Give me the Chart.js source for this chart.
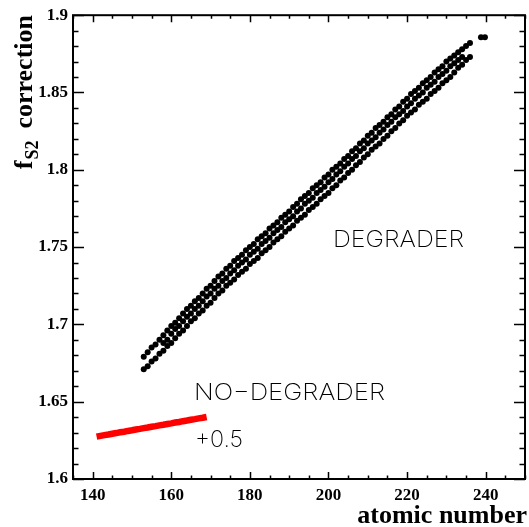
<!DOCTYPE html>
<html>
<head>
<meta charset="utf-8">
<script src="https://cdn.jsdelivr.net/npm/chart.js@4"></script>
<style>
  html, body { margin: 0; padding: 0; background: #fff; }
  canvas { display: block; }
</style>
</head>
<body>
<canvas id="fs2-canvas" width="529" height="527"></canvas>
<script>
// atomic numbers of the degrader points, one column per Z
const atomicNumbers = [153, 154, 155, 156, 157, 158, 159, 160, 161, 162, 163, 164, 165, 166, 167, 168, 169, 170,
    171, 172, 173, 174, 175, 176, 177, 178, 179, 180, 181, 182, 183, 184, 185, 186, 187, 188, 189, 190,
    191, 192, 193, 194, 195, 196, 197, 198, 199, 200, 201, 202, 203, 204, 205, 206, 207, 208, 209, 210,
    211, 212, 213, 214, 215, 216, 217, 218, 219, 220, 221, 222, 223, 224, 225, 226, 227, 228, 229, 230,
    231, 232, 233, 234, 235, 236];

const corrUpper = [1.679, 1.682, 1.685, 1.687, 1.690, 1.693, 1.696, 1.699, 1.701, 1.704, 1.707, 1.710, 1.712, 1.715, 1.717, 1.720, 1.723, 1.725,
    1.728, 1.731, 1.733, 1.736, 1.738, 1.741, 1.743, 1.745, 1.748, 1.750, 1.752, 1.755, 1.757, 1.759, 1.762, 1.764, 1.766, 1.769, 1.771, 1.773,
    1.776, 1.778, 1.781, 1.783, 1.785, 1.788, 1.790, 1.792, 1.795, 1.797, 1.800, 1.802, 1.804, 1.807, 1.809, 1.812, 1.814, 1.817, 1.819, 1.822,
    1.824, 1.827, 1.829, 1.831, 1.834, 1.836, 1.839, 1.841, 1.844, 1.846, 1.849, 1.851, 1.853, 1.856, 1.858, 1.860, 1.863, 1.865, 1.867, 1.870,
    1.872, 1.874, 1.876, 1.878, 1.880, 1.882];

const corrMiddle = [null, null, null, null, null, 1.688, 1.690, 1.694, 1.697, 1.699, 1.702, 1.705, 1.707, 1.710, 1.712, 1.715, 1.718, 1.720,
    1.723, 1.725, 1.728, 1.730, 1.733, 1.735, 1.738, 1.740, 1.742, 1.745, 1.747, 1.749, 1.752, 1.754, 1.756, 1.759, 1.761, 1.763, 1.766, 1.768,
    1.770, 1.773, 1.775, 1.778, 1.780, 1.782, 1.785, 1.787, 1.789, 1.792, 1.794, 1.797, 1.799, 1.802, 1.804, 1.807, 1.809, 1.812, 1.814, 1.817,
    1.819, 1.821, 1.824, 1.826, 1.829, 1.831, 1.834, 1.836, 1.838, 1.841, 1.843, 1.846, 1.848, 1.850, 1.853, 1.855, 1.857, 1.860, 1.862, 1.864,
    1.867, 1.869, 1.871, 1.873, null, null];

const corrLower = [1.671, 1.673, 1.676, 1.678, 1.681, 1.683, 1.686, 1.688, 1.691, 1.694, 1.696, 1.699, 1.702, 1.704, 1.707, 1.709, 1.712, 1.714,
    1.717, 1.720, 1.722, 1.725, 1.727, 1.729, 1.732, 1.734, 1.736, 1.739, 1.741, 1.743, 1.746, 1.748, 1.750, 1.753, 1.755, 1.757, 1.760, 1.762,
    1.764, 1.767, 1.769, 1.771, 1.774, 1.776, 1.778, 1.781, 1.783, 1.785, 1.788, 1.790, 1.793, 1.795, 1.798, 1.800, 1.803, 1.805, 1.808, 1.810,
    1.813, 1.815, 1.817, 1.820, 1.822, 1.825, 1.827, 1.830, 1.832, 1.835, 1.837, 1.839, 1.842, 1.844, 1.846, 1.849, 1.851, 1.853, 1.856, 1.858,
    1.860, 1.863, 1.866, 1.868, 1.871, 1.873];

// the two isolated points at the top end
const tailZ = [238.8, 239.8];
const tailCorr = [1.8858, 1.8858];

// no-degrader curve (shifted by +0.5)
const noDegraderZ = [141, 142, 143, 144, 145, 146, 147, 148, 149, 150, 151, 152, 153, 154, 155,
    156, 157, 158, 159, 160, 161, 162, 163, 164, 165, 166, 167, 168, 169];
const noDegraderCorr = [1.6274, 1.6279, 1.6284, 1.6288, 1.6293, 1.6297, 1.6302, 1.6306, 1.6311, 1.6315, 1.6320, 1.6324, 1.6329, 1.6333, 1.6338,
    1.6342, 1.6347, 1.6351, 1.6356, 1.6360, 1.6365, 1.6369, 1.6374, 1.6378, 1.6383, 1.6387, 1.6392, 1.6396, 1.6401];

const xTickLabels = [140, 160, 180, 200, 220, 240];
const yTickLabels = [1.6, 1.65, 1.7, 1.75, 1.8, 1.85, 1.9];

const toPoints = (xs, ys) => xs.map((x, i) => ({ x: x, y: ys[i] })).filter(p => p.y !== null);

const serif = "'Liberation Serif', 'Times New Roman', serif";
const thin = "Inter, 'Liberation Sans', sans-serif";

// ROOT style frame, inward ticks and the text labels
const frameAndLabels = {
    id: 'frameAndLabels',
    afterDraw(chart) {
        const ctx = chart.ctx;
        const area = chart.chartArea;
        const xs = chart.scales.x;
        const ys = chart.scales.y;
        ctx.save();
        ctx.strokeStyle = '#000';
        ctx.lineWidth = 1.5;
        ctx.beginPath();
        for (let v = 135; v <= 250; v += 5) {
            const px = Math.round(xs.getPixelForValue(v)) + 0.5;
            const len = v % 20 === 0 ? 7 : 3.5;
            ctx.moveTo(px, area.bottom);
            ctx.lineTo(px, area.bottom - len);
            ctx.moveTo(px, area.top);
            ctx.lineTo(px, area.top + len);
        }
        for (let i = 0; i <= 30; i++) {
            const v = 1.6 + i * 0.01;
            const py = Math.round(ys.getPixelForValue(v)) + 0.5;
            const len = i % 5 === 0 ? 11 : 5.5;
            ctx.moveTo(area.left, py);
            ctx.lineTo(area.left + len, py);
            ctx.moveTo(area.right, py);
            ctx.lineTo(area.right - len, py);
        }
        ctx.stroke();
        ctx.lineWidth = 2;
        ctx.strokeRect(area.left, area.top, area.right - area.left, area.bottom - area.top);

        // axis titles
        ctx.fillStyle = '#000';
        ctx.font = `bold 26px ${serif}`;
        ctx.textAlign = 'right';
        ctx.textBaseline = 'alphabetic';
        ctx.fillText('atomic number', 527, 523);

        ctx.textAlign = 'left';
        const wf = ctx.measureText('f').width;
        const wc = ctx.measureText('correction').width;
        ctx.font = `bold 18px ${serif}`;
        const ws = ctx.measureText('S2').width;
        const gap = 12;
        const total = wf + 1 + ws + gap + wc;
        ctx.translate(32, 15 + total);
        ctx.rotate(-Math.PI / 2);
        ctx.font = `bold 26px ${serif}`;
        ctx.fillText('f', 0, 0);
        ctx.font = `bold 18px ${serif}`;
        ctx.fillText('S2', wf + 1, 6);
        ctx.font = `bold 26px ${serif}`;
        ctx.fillText('correction', wf + 1 + ws + gap, 0);
        ctx.restore();

        // plot annotations, thin sans
        const note = (text, x, yMid, width) => {
            ctx.save();
            ctx.font = `200 23px ${thin}`;
            ctx.fillStyle = '#000';
            ctx.textAlign = 'left';
            ctx.textBaseline = 'middle';
            const w = ctx.measureText(text).width;
            ctx.translate(x, yMid);
            ctx.scale(width / w, 1);
            ctx.fillText(text, 0, 0);
            ctx.restore();
        };
        note('DEGRADER', 333, 240, 131);
        note('NO\u2212DEGRADER', 194, 393, 191);
        note('+0.5', 195, 440, 48);
    }
};

new Chart(document.getElementById('fs2-canvas'), {
    type: 'scatter',
    plugins: [frameAndLabels],
    data: {
        datasets: [
            {
                label: 'no degrader',
                data: toPoints(noDegraderZ, noDegraderCorr),
                showLine: true,
                borderColor: '#ff0000',
                borderWidth: 6.5,
                borderCapStyle: 'butt',
                pointRadius: 0,
            },
            {
                label: 'degrader upper',
                data: toPoints(atomicNumbers, corrUpper),
                backgroundColor: '#000',
                borderWidth: 0,
                pointRadius: 3,
            },
            {
                label: 'degrader middle',
                data: toPoints(atomicNumbers, corrMiddle),
                backgroundColor: '#000',
                borderWidth: 0,
                pointRadius: 3,
            },
            {
                label: 'degrader lower',
                data: toPoints(atomicNumbers, corrLower),
                backgroundColor: '#000',
                borderWidth: 0,
                pointRadius: 3,
            },
            {
                label: 'degrader tail',
                data: toPoints(tailZ, tailCorr),
                backgroundColor: '#000',
                borderWidth: 0,
                pointRadius: 3,
            },
        ]
    },
    options: {
        responsive: false,
        animation: false,
        devicePixelRatio: 1,
        layout: {
            padding: { top: 14, right: 1, left: 0, bottom: 0 }
        },
        plugins: {
            legend: { display: false },
            tooltip: { enabled: false },
        },
        scales: {
            x: {
                type: 'linear',
                min: 135,
                max: 250,
                grid: { display: false, drawTicks: false },
                border: { display: false },
                afterBuildTicks: (scale) => {
                    scale.ticks = xTickLabels.map(v => ({ value: v }));
                },
                afterFit: (scale) => { scale.height = 48; },
                ticks: {
                    padding: 6,
                    color: '#000',
                    font: { family: serif, weight: 'bold', size: 17 },
                    callback: (value) => `${value}`,
                }
            },
            y: {
                type: 'linear',
                min: 1.6,
                max: 1.9,
                grid: { display: false, drawTicks: false },
                border: { display: false },
                afterBuildTicks: (scale) => {
                    scale.ticks = yTickLabels.map(v => ({ value: v }));
                },
                afterFit: (scale) => { scale.width = 73; },
                ticks: {
                    padding: 5,
                    color: '#000',
                    font: { family: serif, weight: 'bold', size: 17 },
                    callback: (value) => `${Number(value.toFixed(2))}`,
                }
            }
        }
    }
});
</script>
</body>
</html>
